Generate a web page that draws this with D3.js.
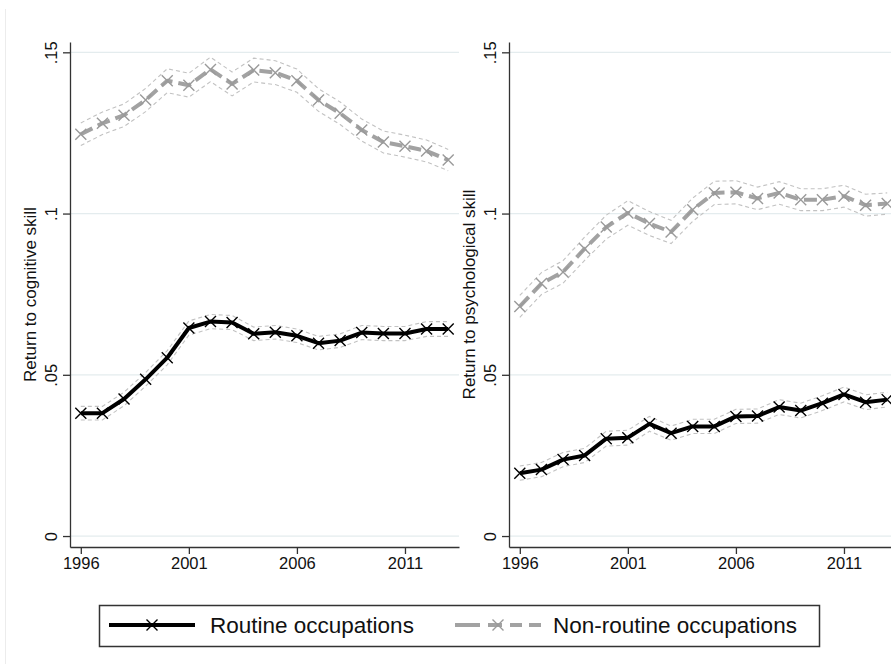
<!DOCTYPE html>
<html>
<head>
<meta charset="utf-8">
<script src="https://cdn.jsdelivr.net/npm/d3@7"></script>
<style>
body { margin: 0; background: #fff; }
svg { display: block; font-family: "Liberation Sans", Arial, sans-serif; }
</style>
</head>
<body>
<svg id="chart" width="891" height="664"></svg>
<script>
'use strict';

var years = [1996, 1997, 1998, 1999, 2000, 2001, 2002, 2003, 2004, 2005, 2006, 2007, 2008, 2009, 2010, 2011, 2012, 2013];
var xTicks = [1996, 2001, 2006, 2011];
var yTicks = [0, 0.05, 0.1, 0.15];
var yTickLabels = ['0', '.05', '.1', '.15'];
var titles = ['Return to cognitive skill', 'Return to psychological skill'];
var seriesNames = ['Routine occupations', 'Non-routine occupations'];

// point estimates
var cogRoutine = [0.0381, 0.0381, 0.0425, 0.0486, 0.0553, 0.0645, 0.0665, 0.0662, 0.0627, 0.0632, 0.0621, 0.0598, 0.0606, 0.0631, 0.0628, 0.0628, 0.0642, 0.0642];
var cogNonroutine = [0.1246, 0.1280, 0.1305, 0.1352, 0.1412, 0.1398, 0.1447, 0.1402, 0.1445, 0.1437, 0.1412, 0.1352, 0.1311, 0.1259, 0.1222, 0.1209, 0.1194, 0.1166];
var psyRoutine = [0.0195, 0.0206, 0.0237, 0.0250, 0.0302, 0.0305, 0.0348, 0.0319, 0.0340, 0.0340, 0.0371, 0.0372, 0.0400, 0.0389, 0.0412, 0.0439, 0.0415, 0.0423];
var psyNonroutine = [0.0712, 0.0783, 0.0819, 0.0891, 0.0958, 0.1002, 0.0969, 0.0943, 0.1012, 0.1064, 0.1066, 0.1047, 0.1064, 0.1043, 0.1043, 0.1054, 0.1026, 0.1031];

// half width of the confidence bands
var cogRoutineCI = [0.0021, 0.0021, 0.0021, 0.0021, 0.0022, 0.0022, 0.0022, 0.0022, 0.0021, 0.0021, 0.0021, 0.0021, 0.0021, 0.0022, 0.0022, 0.0022, 0.0023, 0.0023];
var cogNonroutineCI = [0.0035, 0.0035, 0.0035, 0.0036, 0.0037, 0.0037, 0.0038, 0.0037, 0.0037, 0.0037, 0.0036, 0.0035, 0.0035, 0.0034, 0.0034, 0.0034, 0.0034, 0.0033];
var psyRoutineCI = [0.0022, 0.0022, 0.0022, 0.0022, 0.0023, 0.0023, 0.0023, 0.0022, 0.0022, 0.0022, 0.0022, 0.0022, 0.0023, 0.0023, 0.0023, 0.0023, 0.0023, 0.0023];
var psyNonroutineCI = [0.0034, 0.0034, 0.0035, 0.0036, 0.0037, 0.0038, 0.0037, 0.0036, 0.0036, 0.0036, 0.0036, 0.0035, 0.0035, 0.0034, 0.0034, 0.0034, 0.0034, 0.0033];

var panels = [
	{title: titles[0], left: 70, series: [
		{values: cogRoutine, ci: cogRoutineCI, color: '#000', dash: null, markColor: '#000'},
		{values: cogNonroutine, ci: cogNonroutineCI, color: '#a2a2a2', dash: '13,6', markColor: '#9a9a9a'},
	]},
	{title: titles[1], left: 509, series: [
		{values: psyRoutine, ci: psyRoutineCI, color: '#000', dash: null, markColor: '#000'},
		{values: psyNonroutine, ci: psyNonroutineCI, color: '#a2a2a2', dash: '13,6', markColor: '#9a9a9a'},
	]},
];

var svg = d3.select('#chart');
var plotW = 389, plotTop = 42, plotBottom = 547;
var xMark = 'M-5.5,-5.5L5.5,5.5M-5.5,5.5L5.5,-5.5';

// faint frame line on the left edge
svg.append('line')
	.attr('x1', 5.5).attr('x2', 5.5)
	.attr('y1', 9).attr('y2', 664)
	.attr('stroke', '#ececec')
	;

function drawPanel(p) {
	var x = d3.scaleLinear().domain([1995.5, 2013.5]).range([p.left, p.left + plotW]);
	var y = d3.scaleLinear().domain([-0.0034, 0.1532]).range([plotBottom, plotTop]);
	var g = svg.append('g');

	g.selectAll('line.grid')
		.data(yTicks)
		.enter()
		.append('line')
			.classed('grid', true)
			.attr('x1', p.left).attr('x2', p.left + plotW)
			.attr('y1', function(d) { return y(d); })
			.attr('y2', function(d) { return y(d); })
			.attr('stroke', '#e4ecee')
			.attr('stroke-width', 1.2)
		;

	var yAxis = g.append('g')
		.attr('transform', 'translate(' + p.left + ',0)')
		.call(d3.axisLeft(y)
			.tickValues(yTicks)
			.tickFormat(function(d, i) { return yTickLabels[i]; })
			.tickSize(7)
			.tickSizeOuter(0))
		;
	yAxis.selectAll('text')
		.attr('x', null)
		.attr('dy', null)
		.attr('transform', 'translate(-13,0) rotate(-90)')
		.attr('text-anchor', 'middle')
		.attr('font-size', 16.5)
		.attr('fill', '#111')
		;

	var xAxis = g.append('g')
		.attr('transform', 'translate(0,' + plotBottom + ')')
		.call(d3.axisBottom(x)
			.tickValues(xTicks)
			.tickFormat(d3.format('d'))
			.tickSize(7)
			.tickSizeOuter(0))
		;
	xAxis.selectAll('text')
		.attr('y', 22)
		.attr('dy', null)
		.attr('font-size', 16.5)
		.attr('fill', '#111')
		;

	g.selectAll('.domain, .tick line')
		.attr('stroke', '#333')
		.attr('stroke-width', 1.3)
		;

	g.append('text')
		.attr('transform', 'translate(' + (p.left - 34) + ',' + ((plotTop + plotBottom) / 2) + ') rotate(-90)')
		.attr('text-anchor', 'middle')
		.attr('font-size', 17)
		.attr('fill', '#111')
		.text(p.title)
		;

	p.series.forEach(function(s) {
		var band = function(sign) {
			return d3.line()
				.x(function(d, i) { return x(years[i]); })
				.y(function(d, i) { return y(d + sign * s.ci[i]); })
				(s.values);
		};
		[1, -1].forEach(function(sign) {
			g.append('path')
				.attr('d', band(sign))
				.attr('fill', 'none')
				.attr('stroke', '#c2c2c2')
				.attr('stroke-width', 1.1)
				.attr('stroke-dasharray', '4,3')
				;
		});
	});

	p.series.forEach(function(s) {
		var line = d3.line()
			.x(function(d, i) { return x(years[i]); })
			.y(function(d) { return y(d); })
			;
		g.append('path')
			.attr('d', line(s.values))
			.attr('fill', 'none')
			.attr('stroke', s.color)
			.attr('stroke-width', 4)
			.attr('stroke-linejoin', 'round')
			.attr('stroke-dasharray', s.dash)
			;
		g.selectAll(null)
			.data(s.values)
			.enter()
			.append('path')
				.attr('d', xMark)
				.attr('transform', function(d, i) { return 'translate(' + x(years[i]) + ',' + y(d) + ')'; })
				.attr('fill', 'none')
				.attr('stroke', s.markColor)
				.attr('stroke-width', 1.4)
			;
	});
}

panels.forEach(drawPanel);

// legend
var legend = svg.append('g');
legend.append('rect')
	.attr('x', 99.5).attr('y', 605.5)
	.attr('width', 720).attr('height', 41)
	.attr('fill', '#fff')
	.attr('stroke', '#333')
	.attr('stroke-width', 1.5)
	;
var legendItems = [
	{x: 109, textX: 210, color: '#000', dash: null, markColor: '#000'},
	{x: 455, textX: 553, color: '#a2a2a2', dash: '25,8,14,8,12,7,12', markColor: '#9a9a9a'},
];
legendItems.forEach(function(it, i) {
	legend.append('line')
		.attr('x1', it.x).attr('x2', it.x + 86)
		.attr('y1', 625).attr('y2', 625)
		.attr('stroke', it.color)
		.attr('stroke-width', 4)
		.attr('stroke-dasharray', it.dash)
		;
	legend.append('path')
		.attr('d', xMark)
		.attr('transform', 'translate(' + (it.x + 43) + ',625)')
		.attr('fill', 'none')
		.attr('stroke', it.markColor)
		.attr('stroke-width', 1.4)
		;
	legend.append('text')
		.attr('x', it.textX)
		.attr('y', 633)
		.attr('font-size', 22.5)
		.attr('fill', '#111')
		.text(seriesNames[i])
		;
});
</script>
</body>
</html>
